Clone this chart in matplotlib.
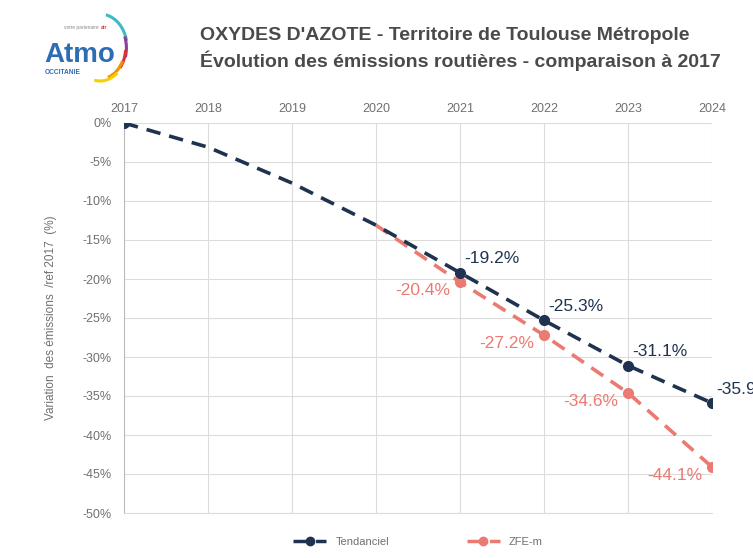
import matplotlib
matplotlib.use("Agg")
import matplotlib.pyplot as plt
from matplotlib.patches import Arc
import numpy as np

##### data #####
years = [2017, 2018, 2019, 2020, 2021, 2022, 2023, 2024]
tendanciel = [0.0, -3.1, -7.7, -13.1, -19.2, -25.3, -31.1, -35.9]
zfe_years = [2020, 2021, 2022, 2023, 2024]
zfe = [-13.1, -20.4, -27.2, -34.6, -44.1]
tend_marks = [0, 4, 5, 6, 7]     # points that carry a marker
zfe_marks = [1, 2, 3, 4]

navy = '#1f3350'
salmon = '#ea7a72'
grey = '#707070'
grid = '#dcdcdc'

plt.rcParams['font.family'] = ['Liberation Sans', 'DejaVu Sans']

fig = plt.figure(figsize=(7.53, 5.58), dpi=100)
ax = fig.add_axes([124/753, 45/558, 588/753, 390/558])

ax.plot(years, tendanciel, color=navy, lw=2.6, dashes=(4, 2.5), marker='o', ms=7,
        markevery=tend_marks, label='Tendanciel', zorder=4)
ax.plot(zfe_years, zfe, color=salmon, lw=2.6, dashes=(4, 2.5), marker='o', ms=7,
        markevery=zfe_marks, label='ZFE-m', zorder=3)

# data labels
for i in tend_marks[1:]:
    ax.annotate('{:.1f}%'.format(tendanciel[i]), (years[i], tendanciel[i]),
                xytext=(3, 10), textcoords='offset points', ha='left', va='center',
                color=navy, fontsize=12.5, annotation_clip=False)
for i in zfe_marks:
    ax.annotate('{:.1f}%'.format(zfe[i]), (zfe_years[i], zfe[i]),
                xytext=(-7, -6), textcoords='offset points', ha='right', va='center',
                color=salmon, fontsize=12.5)

ax.set_xlim(2017, 2024)
ax.set_ylim(-50, 0)
ax.set_xticks(years)
ax.set_yticks(np.arange(-50, 1, 5))
ax.set_yticklabels(['{}%'.format(v) for v in range(-50, 1, 5)])
ax.xaxis.tick_top()
ax.tick_params(axis='both', length=0, colors=grey, labelsize=9)
ax.tick_params(axis='x', pad=6)
ax.tick_params(axis='y', pad=9)
ax.grid(True, color=grid, lw=0.8)
for s in ['top', 'right']:
    ax.spines[s].set_visible(False)
ax.spines['left'].set_color('#bbbbbb')
ax.spines['bottom'].set_color(grid)
ax.set_ylabel('Variation  des émissions  /ref 2017  (%)', color=grey, fontsize=8.5, labelpad=18)

leg = ax.legend(loc='upper center', bbox_to_anchor=(0.5, -0.035), ncol=2, frameon=False,
                fontsize=8, handlelength=3, columnspacing=7, labelcolor=grey)
for h in leg.legend_handles:
    h.set_markersize(6)
    h.set_linewidth(2.5)

##### title #####
fig.text(200/753, 1 - 35/558, "OXYDES D'AZOTE - Territoire de Toulouse Métropole",
         fontsize=14, fontweight='bold', color='#4a4a4a', va='center')
fig.text(200/753, 1 - 61/558, "Évolution des émissions routières - comparaison à 2017",
         fontsize=14, fontweight='bold', color='#4a4a4a', va='center')

##### logo (pixel coordinates) #####
oax = fig.add_axes([0, 0, 1, 1])
oax.set_xlim(0, 753)
oax.set_ylim(558, 0)
oax.set_axis_off()
oax.text(44, 62, 'Atmo', fontsize=20, fontweight='bold', color='#2e6db4', va='baseline')
oax.text(99, 29, 'votre partenaire', fontsize=3.5, color='#8a8a8a', va='baseline', ha='right')
oax.text(101, 29, 'air', fontsize=3.8, fontweight='bold', color='#e2312a', va='baseline')
oax.text(45, 74, 'OCCITANIE', fontsize=4.8, fontweight='bold', color='#2e6db4', va='baseline')
for r, c, t1, t2 in [(34, '#3fb9c6', -80, -15), (33, '#8a3f98', -25, 20),
                     (32, '#e2312a', 5, 45), (31, '#f39200', 30, 75),
                     (33, '#f6d000', 55, 100)]:
    oax.add_patch(Arc((100, 48), 2 * r * 0.8, 2 * r, theta1=t1, theta2=t2, color=c, lw=2.2))

fig.savefig('out.png', dpi=100)
